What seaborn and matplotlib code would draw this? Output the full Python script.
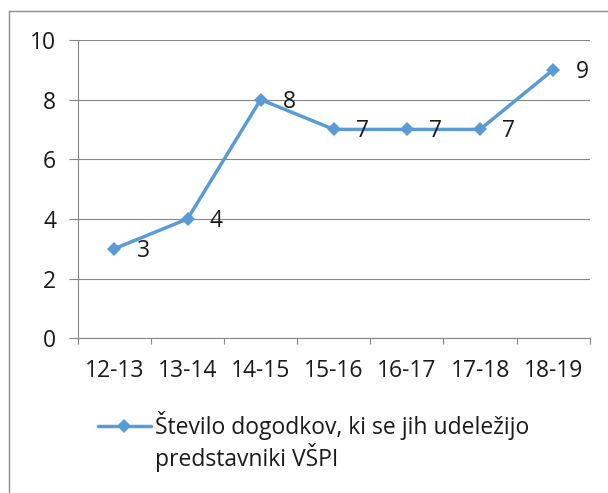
import matplotlib
matplotlib.use("Agg")
import matplotlib.pyplot as plt
import seaborn as sns
import pandas as pd
from matplotlib.lines import Line2D

seasons = ["12-13", "13-14", "14-15", "15-16", "16-17", "17-18", "18-19"]
events = [3, 4, 8, 7, 7, 7, 9]
series_name = ["Število dogodkov, ki se jih udeležijo", "predstavniki VŠPI"]
y_ticks = [0, 2, 4, 6, 8, 10]

sns.set_theme(style="white")
plt.rcParams['font.family'] = ['Open Sans', 'DejaVu Sans']

blue = "#5B9BD5"
grid_c = "#868686"
text_c = "#1a1a1a"
fs = 16.5

fig = plt.figure(figsize=(6.08, 4.93), dpi=100)
ax = fig.add_axes([0.128, 0.314, 0.842, 0.605])

df = pd.DataFrame({"season": seasons, "events": events})
sns.lineplot(data=df, x="season", y="events", ax=ax, color=blue, linewidth=2.5,
             marker="D", markersize=7, markeredgewidth=0, sort=False)

for i, v in enumerate(events):
    ax.annotate(str(v), (i, v), xytext=(16, -1.5), textcoords="offset points",
                ha="left", va="center", fontsize=fs, color=text_c)

ax.set_xlim(-0.5, len(seasons) - 0.5)
ax.set_ylim(0, 10)
ax.set_yticks(y_ticks)
ax.set_xticks(range(len(seasons)))
ax.set_xticklabels(seasons)
ax.set_xticks([i - 0.5 for i in range(len(seasons) + 1)], minor=True)
ax.set_xlabel("")
ax.set_ylabel("")
ax.yaxis.grid(True, color=grid_c, linewidth=0.8)
ax.set_axisbelow(True)
for s in ["top", "right"]:
    ax.spines[s].set_visible(False)
for s in ["left", "bottom"]:
    ax.spines[s].set_color(grid_c)
    ax.spines[s].set_linewidth(0.8)
ax.tick_params(axis="y", which="major", length=6.5, width=0.8, color=grid_c,
               labelsize=fs, labelcolor=text_c, pad=9, left=True)
ax.tick_params(axis="x", which="major", length=0, labelsize=fs,
               labelcolor=text_c, pad=15)
ax.tick_params(axis="x", which="minor", length=4.5, width=0.8, color=grid_c,
               bottom=True)

leg_handle = Line2D([], [], color=blue, linewidth=2.5, marker="D",
                    markersize=7, markeredgewidth=0)
leg = fig.legend([leg_handle], [series_name[0]], loc="upper left",
                 bbox_to_anchor=(0.127, 0.208), frameon=False, fontsize=fs,
                 handlelength=2.3, handletextpad=0.2, labelcolor=text_c)

# second line of the wrapped legend label, aligned under the first
fig.canvas.draw()
bb = leg.get_texts()[0].get_window_extent()
W, H = fig.get_size_inches() * fig.dpi
fig.text(bb.x0 / W, ((bb.y0 + bb.y1) / 2 - 32) / H, series_name[1],
         ha="left", va="center", fontsize=fs, color=text_c)

# chart-area border (top and left edges visible in the reference crop)
fig.add_artist(Line2D([9 / 608, 1.0], [1 - 11 / 493, 1 - 11 / 493],
                      transform=fig.transFigure, color="#8c8c8c", linewidth=1.0))
fig.add_artist(Line2D([9 / 608, 9 / 608], [0.0, 1 - 11 / 493],
                      transform=fig.transFigure, color="#8c8c8c", linewidth=1.0))

fig.savefig("out.png", dpi=100)
